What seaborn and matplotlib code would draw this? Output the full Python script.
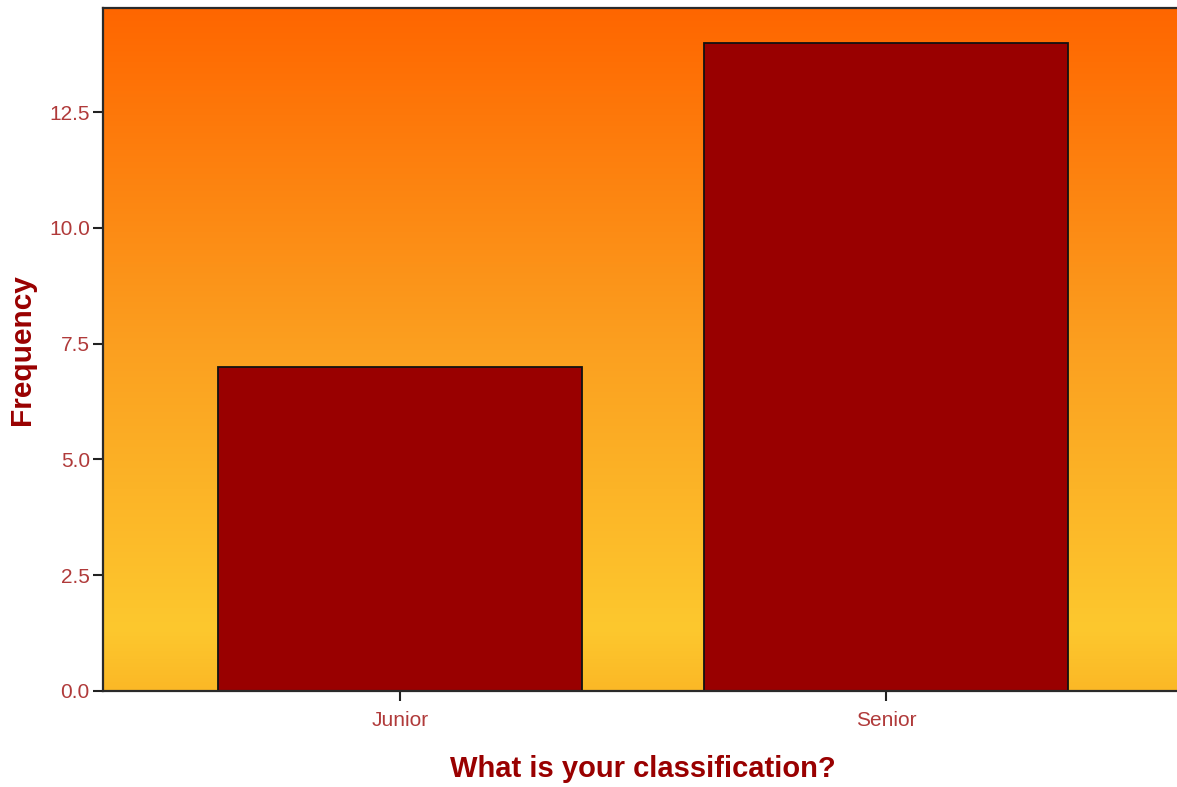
import numpy as np
import pandas as pd
import matplotlib
matplotlib.use("Agg")
import matplotlib.pyplot as plt
from matplotlib.colors import LinearSegmentedColormap
import seaborn as sns

categories = ["Junior", "Senior"]
frequencies = [7, 14]
y_ticks = [0.0, 2.5, 5.0, 7.5, 10.0, 12.5]

sns.set_style("white")
plt.rcParams['font.family'] = ['Liberation Sans', 'DejaVu Sans']

df = pd.DataFrame({"classification": categories, "frequency": frequencies})

fig = plt.figure(figsize=(11.77, 7.87), dpi=100)
ax = fig.add_axes([103/1177, 96/787, 1080/1177, 683/787])

# gradient background
cmap = LinearSegmentedColormap.from_list(
    "bg", [(0.0, "#fbb826"), (0.09, "#fdc82e"), (0.5, "#fba020"), (1.0, "#ff6600")])
grad = np.linspace(0, 1, 256).reshape(-1, 1)
ax.imshow(grad, cmap=cmap, aspect="auto", origin="lower",
          extent=[0, 1, 0, 1], transform=ax.transAxes, zorder=0)

sns.barplot(data=df, x="classification", y="frequency", color="#990000",
            edgecolor="#111111", linewidth=1.3, width=0.75, saturation=1,
            ax=ax, zorder=2)

ax.set_xlim(-0.611, 1.611)
ax.set_ylim(0, 14.75)
ax.set_yticks(y_ticks)
ax.set_yticklabels([f"{v:.1f}" for v in y_ticks])

ax.tick_params(axis="both", which="major", length=7.5, width=1.5, color="#222222",
               direction="out", labelsize=15, labelcolor="#b03a3a", pad=2,
               left=True, bottom=True)
ax.tick_params(axis="x", pad=7)

for s in ["left", "bottom", "top", "right"]:
    ax.spines[s].set_color("#2a2a2a")
    ax.spines[s].set_linewidth(1.6)

ax.set_xlabel("What is your classification?", fontsize=21, fontweight="bold",
              color="#990000", labelpad=18)
ax.set_ylabel("Frequency", fontsize=21.5, fontweight="bold", color="#990000",
              labelpad=9)

fig.savefig("out.png", dpi=100)
